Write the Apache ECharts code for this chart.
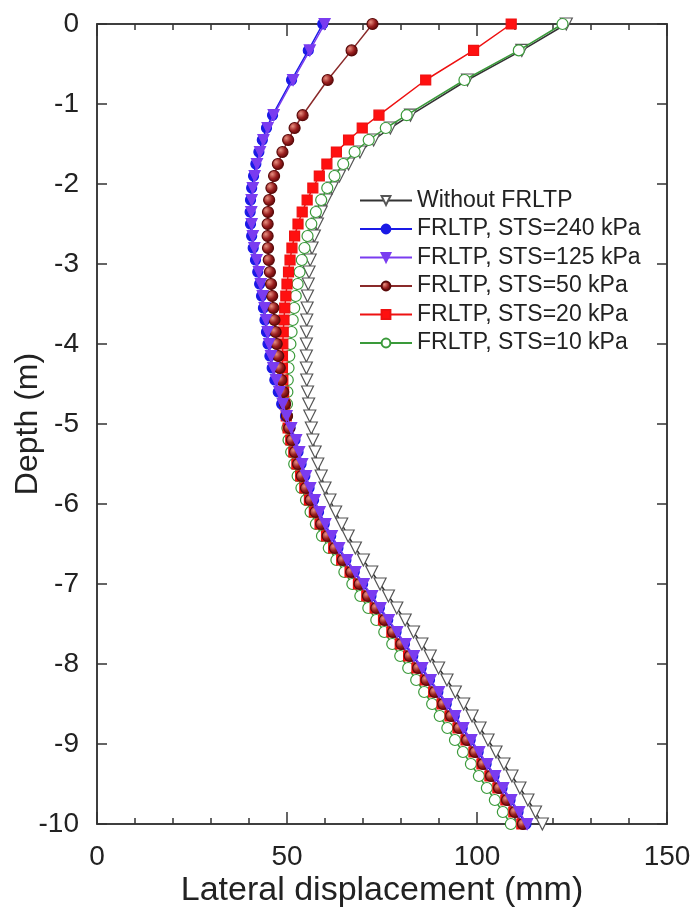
<!DOCTYPE html>
<html><head><meta charset="utf-8">
<script src="https://cdn.jsdelivr.net/npm/echarts@6/dist/echarts.min.js"></script>
<style>html,body{margin:0;padding:0;background:#fff}#c{width:696px;height:917px}</style>
</head><body><div id="c"></div>
<script>
// Depth (m) of each node
var depths = [0,-0.33,-0.7,-1.14,-1.3,-1.45,-1.6,-1.75,-1.9,-2.05,-2.2,-2.35,-2.5,-2.65,-2.8,-2.95,-3.1,-3.25,-3.4,-3.55,-3.7,-3.85,-4.0,-4.15,-4.3,-4.45,-4.6,-4.75,-4.9,-5.05,-5.2,-5.35,-5.5,-5.65,-5.8,-5.95,-6.1,-6.25,-6.4,-6.55,-6.7,-6.85,-7.0,-7.15,-7.3,-7.45,-7.6,-7.75,-7.9,-8.05,-8.2,-8.35,-8.5,-8.65,-8.8,-8.95,-9.1,-9.25,-9.4,-9.55,-9.7,-9.85,-10];

// Lateral displacement (mm) per series
var withoutFRLTP = [123.5,111.8,97.5,82.5,77.2,72.8,69.2,66.2,63.8,61.9,60.3,59.0,58.0,57.2,56.6,56.1,55.8,55.6,55.4,55.3,55.2,55.1,55.1,55.1,55.1,55.2,55.4,55.7,56.0,56.4,56.8,57.4,58.1,59.0,60.0,61.3,62.8,64.4,66.1,68.0,70.1,72.3,74.5,76.7,78.9,81.1,83.3,85.5,87.7,89.9,92.1,94.3,96.5,98.7,100.8,102.9,105.0,107.1,109.2,111.3,113.4,115.4,117.2];
var sts240 = [59.4,55.6,51.2,46.2,44.6,43.5,42.6,41.8,41.2,40.7,40.4,40.3,40.4,40.7,41.1,41.7,42.3,42.8,43.3,43.8,44.2,44.6,45.0,45.5,46.1,46.8,47.7,48.6,49.6,50.8,52.1,52.9,53.7,54.7,55.8,57.0,58.3,59.8,61.5,63.4,65.5,67.7,69.9,72.1,74.3,76.5,78.7,80.9,83.1,85.3,87.5,89.7,91.9,94.0,96.1,98.2,100.3,102.4,104.5,106.6,108.7,110.8,112.9];
var sts125 = [59.9,56.0,51.6,46.5,44.9,43.8,42.9,42.1,41.5,41.0,40.7,40.6,40.7,41.0,41.4,42.0,42.6,43.1,43.6,44.1,44.5,44.9,45.3,45.8,46.4,47.1,48.0,48.9,49.9,51.1,52.4,53.2,54.0,55.0,56.1,57.3,58.6,60.1,61.8,63.7,65.8,68.0,70.2,72.4,74.6,76.8,79.0,81.2,83.4,85.6,87.8,90.0,92.2,94.3,96.4,98.5,100.6,102.7,104.8,106.9,109.0,111.1,113.2];
var sts50 = [72.5,67.0,60.7,54.1,52.0,50.3,48.8,47.6,46.6,45.9,45.3,45.0,44.9,44.9,45.0,45.2,45.5,45.8,46.1,46.4,46.7,47.0,47.3,47.7,48.1,48.5,49.0,49.5,50.0,50.6,51.3,52.1,52.9,53.9,55.0,56.2,57.5,59.0,60.7,62.6,64.7,66.9,69.1,71.3,73.5,75.7,77.9,80.1,82.3,84.5,86.7,88.9,91.1,93.2,95.3,97.4,99.5,101.6,103.7,105.8,107.9,110.0,112.1];
var sts20 = [109.0,99.1,86.5,74.2,69.8,66.2,63.0,60.5,58.5,56.8,55.3,54.0,52.9,52.0,51.3,50.8,50.4,50.0,49.7,49.4,49.2,49.0,48.9,48.8,48.8,48.9,49.1,49.4,49.8,50.3,51.0,51.8,52.6,53.6,54.7,55.9,57.2,58.7,60.4,62.3,64.4,66.6,68.8,71.0,73.2,75.4,77.6,79.8,82.0,84.2,86.4,88.6,90.8,92.9,95.0,97.1,99.2,101.3,103.4,105.5,107.6,109.7,111.8];
var sts10 = [122.5,111.0,96.7,81.5,76.0,71.5,67.8,64.8,62.5,60.6,59.0,57.6,56.4,55.4,54.6,53.9,53.3,52.8,52.3,51.9,51.5,51.2,50.9,50.6,50.4,50.2,50.1,50.0,50.0,50.1,50.4,51.1,51.9,52.8,53.8,55.0,56.2,57.6,59.2,61.0,63.0,65.1,67.2,69.3,71.4,73.5,75.6,77.7,79.8,81.9,84.0,86.1,88.2,90.2,92.2,94.2,96.3,98.4,100.5,102.6,104.7,106.8,108.9];

var seriesNames = ['Without FRLTP','FRLTP, STS=240 kPa','FRLTP, STS=125 kPa','FRLTP, STS=50 kPa','FRLTP, STS=20 kPa','FRLTP, STS=10 kPa'];
var xTicks = [0,50,100,150];
var yTicks = [0,-1,-2,-3,-4,-5,-6,-7,-8,-9,-10];

function pairs(vals){ return vals.map(function(v,i){ return [v, depths[i]]; }); }

var FONT = 'Liberation Sans, Arial, Helvetica, sans-serif';
var sphere = {type:'radial',x:0.35,y:0.35,r:0.75,colorStops:[{offset:0,color:'#e89080'},{offset:0.5,color:'#9a1f1f'},{offset:1,color:'#4a0000'}]};

var styles = [
  {data:withoutFRLTP, line:'#333333', symbol:'triangle', rotate:180, size:12, fill:'#ffffff', border:'#555555', z:2},
  {data:sts240, line:'#1a1ae6', symbol:'circle', rotate:0, size:10, fill:'#1a1ae6', border:'#1a1ae6', z:5},
  {data:sts125, line:'#7a3cf0', symbol:'triangle', rotate:180, size:11, fill:'#7a3cf0', border:'#7a3cf0', z:7},
  {data:sts50, line:'#8a2a2a', symbol:'circle', rotate:0, size:11, fill:sphere, border:'#5a0a0a', z:6},
  {data:sts20, line:'#ee1111', symbol:'rect', rotate:0, size:10, fill:'#ff1010', border:'#ee1111', z:4},
  {data:sts10, line:'#3a9a3a', symbol:'circle', rotate:0, size:11, fill:'#ffffff', border:'#3a9a3a', z:3}
];

var series = styles.map(function(s,i){
  return {
    name: seriesNames[i], type:'line', xAxisIndex:0, yAxisIndex:0,
    data: pairs(s.data), symbol: s.symbol, symbolRotate: s.rotate, symbolSize: s.size,
    showAllSymbol:true, smooth:false,
    lineStyle:{color:s.line,width:1.5},
    itemStyle:{color:s.fill,borderColor:s.border,borderWidth:1.2},
    z: s.z
  };
});

function axLine(){ return {show:true,onZero:false,lineStyle:{color:'#333',width:1.5}}; }
var chart = echarts.init(document.getElementById('c'));
chart.setOption({
  animation:false,
  backgroundColor:'#fff',
  grid:{left:97,right:29,top:24,bottom:93,containLabel:false,outerBoundsMode:'none',
        show:true,borderColor:'#333',borderWidth:1.5,backgroundColor:'transparent'},
  legend:{
    orient:'vertical', left:354, top:184, itemWidth:52, itemHeight:11, itemGap:5.5,
    data: seriesNames,
    textStyle:{fontFamily:FONT,fontSize:23,color:'#222'}
  },
  xAxis:[
    {type:'value',position:'bottom',min:0,max:150,interval:50,
     name:'Lateral displacement (mm)',nameLocation:'middle',nameGap:50,nameMoveOverlap:false,
     nameTextStyle:{fontFamily:FONT,fontSize:34,color:'#222'},
     axisLine:axLine(),
     axisTick:{show:true,inside:true,length:12,lineStyle:{color:'#333',width:1.5}},
     minorTick:{show:true,splitNumber:5,length:6,lineStyle:{color:'#333',width:1.5}},
     splitLine:{show:false},
     axisLabel:{margin:19,fontFamily:FONT,fontSize:28,color:'#222',
       formatter:function(v){return xTicks.indexOf(v)>=0?String(v):'';}}},
    {type:'value',position:'top',min:0,max:150,interval:50,
     axisLine:axLine(),
     axisTick:{show:true,inside:true,length:12,lineStyle:{color:'#333',width:1.5}},
     minorTick:{show:true,splitNumber:5,length:6,lineStyle:{color:'#333',width:1.5}},
     splitLine:{show:false},axisLabel:{show:false}}
  ],
  yAxis:[
    {type:'value',position:'left',min:-10,max:0,interval:1,
     name:'Depth (m)',nameLocation:'middle',nameGap:53,nameMoveOverlap:false,
     nameTextStyle:{fontFamily:FONT,fontSize:32,color:'#222'},
     axisLine:axLine(),
     axisTick:{show:true,inside:true,length:10,lineStyle:{color:'#333',width:1.5}},
     splitLine:{show:false},
     axisLabel:{margin:18,fontFamily:FONT,fontSize:28,color:'#222',
       formatter:function(v){return yTicks.indexOf(v)>=0?String(v):'';}}},
    {type:'value',position:'right',min:-10,max:0,interval:1,
     axisLine:axLine(),
     axisTick:{show:true,inside:true,length:10,lineStyle:{color:'#333',width:1.5}},
     splitLine:{show:false},axisLabel:{show:false}}
  ],
  series: series
});
</script></body></html>
